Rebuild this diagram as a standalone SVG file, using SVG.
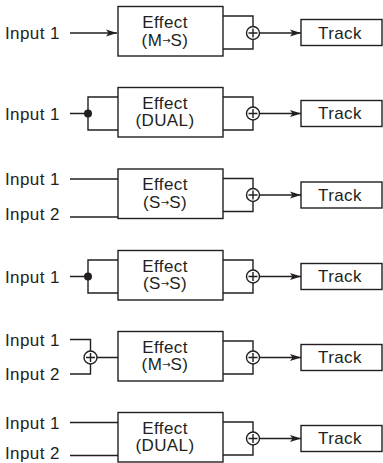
<svg xmlns="http://www.w3.org/2000/svg" xmlns:xlink="http://www.w3.org/1999/xlink" width="383" height="463" viewBox="0 0 383 463">
<style>
  .ln{fill:none;stroke:#231f20;stroke-width:1.4}
  .bx{fill:#fff;stroke:#231f20;stroke-width:1.4}
  .tx{font-family:"Liberation Sans",Arial,sans-serif;font-size:17px;fill:#231f20;letter-spacing:0.4px}
  .ct{text-anchor:middle}
  .sm{font-family:"DejaVu Sans",sans-serif;font-size:10px;letter-spacing:0}
</style>
<defs>
  <marker id="ah" markerUnits="userSpaceOnUse" markerWidth="12" markerHeight="10" refX="11" refY="4" orient="auto">
    <path d="M0,0.5 L11,4 L0,7.5 L2.5,4 Z" fill="#231f20"/>
  </marker>
  <g id="sum">
    <circle cx="0" cy="0" r="6.5" fill="#fff" stroke="#231f20" stroke-width="1.4"/>
    <path d="M-4.5,0 H4.5 M0,-4.5 V4.5" stroke="#231f20" stroke-width="1.4"/>
  </g>
</defs>
<rect width="383" height="463" fill="#fff"/>

<g id="connectors">
  <!-- row 1 -->
  <path class="ln" d="M70,33 H117" marker-end="url(#ah)"/>
  <path class="ln" d="M223,16 H253 V26.5 M223,49 H253 V39.5"/>
  <path class="ln" d="M259.5,33 H301" marker-end="url(#ah)"/>
  <!-- row 2 -->
  <path class="ln" d="M70,113.5 H88 M118,97 H88 V130 H118"/>
  <path class="ln" d="M223,97 H253 V107 M223,130 H253 V120"/>
  <path class="ln" d="M259.5,113.5 H301" marker-end="url(#ah)"/>
  <!-- row 3 -->
  <path class="ln" d="M70,179 H118 M70,217 H118"/>
  <path class="ln" d="M223,178.5 H253 V188.5 M223,211.5 H253 V201.5"/>
  <path class="ln" d="M259.5,195 H301" marker-end="url(#ah)"/>
  <!-- row 4 -->
  <path class="ln" d="M70,276.5 H88 M118,260 H88 V293 H118"/>
  <path class="ln" d="M223,260 H253 V270 M223,293 H253 V283"/>
  <path class="ln" d="M259.5,276.5 H301" marker-end="url(#ah)"/>
  <!-- row 5 -->
  <path class="ln" d="M70,339.5 H90.5 V351 M70,374 H90.5 V364 M97,357.5 H118"/>
  <path class="ln" d="M223,341 H253 V351 M223,374 H253 V364"/>
  <path class="ln" d="M259.5,357.5 H301" marker-end="url(#ah)"/>
  <!-- row 6 -->
  <path class="ln" d="M70,422.5 H118 M70,455.5 H118"/>
  <path class="ln" d="M223,422 H253 V432 M223,455 H253 V445"/>
  <path class="ln" d="M259.5,438.5 H301" marker-end="url(#ah)"/>
</g>

<!-- Row 1 -->
<g id="in1-r1"><text class="tx" x="5" y="39">Input 1</text></g>
<g id="fx-r1"><rect class="bx" x="118" y="6.5" width="105" height="49.5"/>
  <text class="tx ct" x="165" y="27.5">Effect</text>
  <text class="tx ct" x="165" y="45.5">(M<tspan class="sm" dy="-2">→</tspan><tspan dy="2">S)</tspan></text></g>
<g id="sum-r1"><use xlink:href="#sum" x="253" y="33"/></g>
<g id="track-r1"><rect class="bx" x="301" y="19.5" width="81" height="26"/><text class="tx" x="318" y="38.5">Track</text></g>

<!-- Row 2 -->
<g id="in1-r2"><text class="tx" x="5" y="119.5">Input 1</text></g>
<g id="split-r2"><circle cx="88" cy="113.5" r="4" fill="#231f20"/></g>
<g id="fx-r2"><rect class="bx" x="118" y="87.5" width="105" height="49.5"/>
  <text class="tx ct" x="165" y="108.5">Effect</text>
  <text class="tx ct" x="165" y="126">(DUAL)</text></g>
<g id="sum-r2"><use xlink:href="#sum" x="253" y="113.5"/></g>
<g id="track-r2"><rect class="bx" x="301" y="100.5" width="81" height="26"/><text class="tx" x="318" y="119">Track</text></g>

<!-- Row 3 -->
<g id="in1-r3"><text class="tx" x="5" y="185">Input 1</text></g>
<g id="in2-r3"><text class="tx" x="5" y="219.5">Input 2</text></g>
<g id="fx-r3"><rect class="bx" x="118" y="169" width="105" height="49.5"/>
  <text class="tx ct" x="165" y="190">Effect</text>
  <text class="tx ct" x="165" y="207.5">(S<tspan class="sm" dy="-2">→</tspan><tspan dy="2">S)</tspan></text></g>
<g id="sum-r3"><use xlink:href="#sum" x="253" y="195"/></g>
<g id="track-r3"><rect class="bx" x="301" y="182" width="81" height="26"/><text class="tx" x="318" y="200.5">Track</text></g>

<!-- Row 4 -->
<g id="in1-r4"><text class="tx" x="5" y="282.5">Input 1</text></g>
<g id="split-r4"><circle cx="88" cy="276.5" r="4" fill="#231f20"/></g>
<g id="fx-r4"><rect class="bx" x="118" y="250.5" width="105" height="49.5"/>
  <text class="tx ct" x="165" y="271.5">Effect</text>
  <text class="tx ct" x="165" y="289">(S<tspan class="sm" dy="-2">→</tspan><tspan dy="2">S)</tspan></text></g>
<g id="sum-r4"><use xlink:href="#sum" x="253" y="276.5"/></g>
<g id="track-r4"><rect class="bx" x="301" y="263.5" width="81" height="26"/><text class="tx" x="318" y="282">Track</text></g>

<!-- Row 5 -->
<g id="in1-r5"><text class="tx" x="5" y="345.5">Input 1</text></g>
<g id="in2-r5"><text class="tx" x="5" y="380">Input 2</text></g>
<g id="insum-r5"><use xlink:href="#sum" x="90.5" y="357.5"/></g>
<g id="fx-r5"><rect class="bx" x="118" y="331.5" width="105" height="49.5"/>
  <text class="tx ct" x="165" y="352.5">Effect</text>
  <text class="tx ct" x="165" y="370">(M<tspan class="sm" dy="-2">→</tspan><tspan dy="2">S)</tspan></text></g>
<g id="sum-r5"><use xlink:href="#sum" x="253" y="357.5"/></g>
<g id="track-r5"><rect class="bx" x="301" y="344.5" width="81" height="26"/><text class="tx" x="318" y="363">Track</text></g>

<!-- Row 6 -->
<g id="in1-r6"><text class="tx" x="5" y="428.5">Input 1</text></g>
<g id="in2-r6"><text class="tx" x="5" y="459">Input 2</text></g>
<g id="fx-r6"><rect class="bx" x="118" y="412.5" width="105" height="49.5"/>
  <text class="tx ct" x="165" y="433.5">Effect</text>
  <text class="tx ct" x="165" y="451">(DUAL)</text></g>
<g id="sum-r6"><use xlink:href="#sum" x="253" y="438.5"/></g>
<g id="track-r6"><rect class="bx" x="301" y="425.5" width="81" height="26"/><text class="tx" x="318" y="444">Track</text></g>
</svg>
